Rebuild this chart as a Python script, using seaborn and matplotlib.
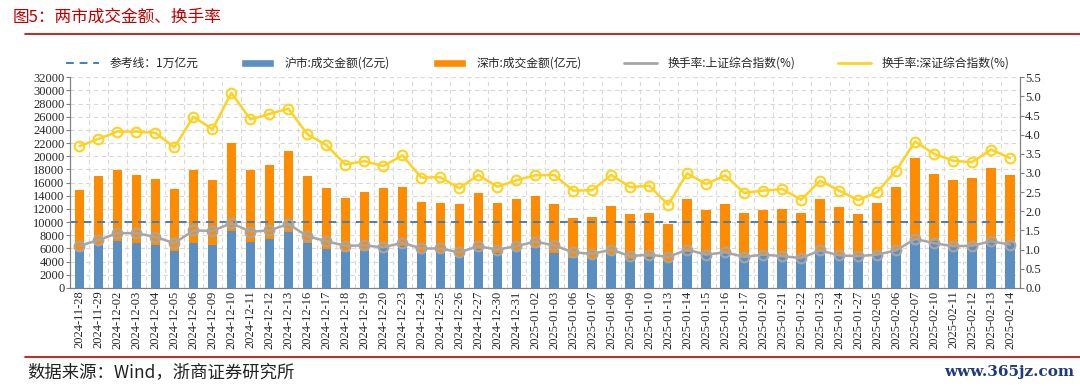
import numpy as np
import pandas as pd
import matplotlib
matplotlib.use("Agg")
import matplotlib.pyplot as plt
from matplotlib.lines import Line2D
from matplotlib.patches import Patch
import seaborn as sns

dates = ["2024-11-28", "2024-11-29", "2024-12-02", "2024-12-03", "2024-12-04", "2024-12-05",
         "2024-12-06", "2024-12-09", "2024-12-10", "2024-12-11", "2024-12-12", "2024-12-13",
         "2024-12-16", "2024-12-17", "2024-12-18", "2024-12-19", "2024-12-20", "2024-12-23",
         "2024-12-24", "2024-12-25", "2024-12-26", "2024-12-27", "2024-12-30", "2024-12-31",
         "2025-01-02", "2025-01-03", "2025-01-06", "2025-01-07", "2025-01-08", "2025-01-09",
         "2025-01-10", "2025-01-13", "2025-01-14", "2025-01-15", "2025-01-16", "2025-01-17",
         "2025-01-20", "2025-01-21", "2025-01-22", "2025-01-23", "2025-01-24", "2025-01-27",
         "2025-02-05", "2025-02-06", "2025-02-07", "2025-02-10", "2025-02-11", "2025-02-12",
         "2025-02-13", "2025-02-14"]

hu_amount = [5600, 6570, 7080, 6830, 6520, 5660, 6880, 6520, 8590, 6980, 7430, 8490, 6770, 5920, 5410,
             5660, 6070, 6320, 5410, 5260, 4900, 5920, 5310, 5710, 6070, 5260, 4500, 4450, 5110, 4400,
             4650, 4150, 5410, 5160, 5410, 4800, 5060, 4900, 4650, 5710, 5060, 4800, 5060, 5710, 7430,
             7080, 6570, 6570, 7330, 6830]
shen_amount = [9260, 10470, 10870, 10310, 10060, 9300, 11070, 9810, 13400, 10870, 11280, 12240, 10220,
               9200, 8190, 8850, 9100, 9000, 7680, 7630, 7890, 8490, 7530, 7740, 7930, 7480, 6070,
               6370, 7380, 6770, 6780, 5560, 8090, 6720, 7380, 6580, 6720, 7130, 6730, 7840, 7230,
               6420, 7880, 9660, 12240, 10260, 9810, 10160, 10870, 10360]
sh_turnover = [1.10, 1.25, 1.43, 1.43, 1.33, 1.17, 1.50, 1.49, 1.69, 1.47, 1.50, 1.67, 1.35, 1.22, 1.10,
               1.11, 1.06, 1.18, 1.03, 1.03, 0.93, 1.09, 1.00, 1.09, 1.21, 1.11, 0.93, 0.89, 1.00, 0.83,
               0.87, 0.81, 1.00, 0.87, 0.93, 0.81, 0.87, 0.83, 0.78, 0.98, 0.85, 0.83, 0.87, 0.98, 1.28,
               1.17, 1.09, 1.10, 1.22, 1.13]
sz_turnover = [3.70, 3.89, 4.08, 4.08, 4.05, 3.67, 4.47, 4.14, 5.09, 4.40, 4.54, 4.68, 4.01, 3.73, 3.22,
               3.31, 3.18, 3.46, 2.88, 2.89, 2.60, 2.95, 2.64, 2.81, 2.94, 2.95, 2.54, 2.55, 2.95, 2.63,
               2.67, 2.17, 2.99, 2.71, 2.94, 2.48, 2.54, 2.58, 2.30, 2.80, 2.54, 2.29, 2.50, 3.06, 3.82,
               3.50, 3.32, 3.28, 3.61, 3.39]
ref_line = 10000

left_ticks = list(range(0, 32001, 2000))
right_ticks = [i * 0.5 for i in range(12)]

legend_labels = ["参考线：1万亿元", "沪市:成交金额(亿元)", "深市:成交金额(亿元)",
                 "换手率:上证综合指数(%)", "换手率:深证综合指数(%)"]

df = pd.DataFrame({"date": dates, "hu": hu_amount, "shen": shen_amount,
                   "sh": sh_turnover, "sz": sz_turnover})
df["total"] = df["hu"] + df["shen"]
df["pos"] = np.arange(len(df))

C_BLUE = "#5B8FC2"
C_ORANGE = "#FF8C00"
C_GRAY = "#A6A6A6"
C_YELLOW = "#FFD21F"
C_RED = "#C00000"
SERIF = ["Liberation Serif", "DejaVu Serif"]
CJK = ["Noto Sans CJK SC", "DejaVu Sans"]

sns.set_theme(style="white")
plt.rcParams["font.family"] = ["Liberation Serif", "Noto Sans CJK SC", "DejaVu Sans"]

fig = plt.figure(figsize=(10.8, 3.86), dpi=100)
ax = fig.add_axes([0.0648, 0.254, 0.8792, 0.546])

sns.barplot(data=df, x="date", y="total", color=C_ORANGE, width=0.5, saturation=1,
            edgecolor="none", ax=ax, zorder=2)
sns.barplot(data=df, x="date", y="hu", color=C_BLUE, width=0.5, saturation=1,
            edgecolor="none", ax=ax, zorder=3)
ax.hlines(ref_line, -0.5, len(df) - 1, colors="#3F7FBF", linestyles=(0, (4, 3)), lw=1.4, zorder=4)

ax.set_xlim(-0.5, len(df) - 0.5)
ax.set_ylim(0, 32000)
ax.set_yticks(left_ticks)
ax.set_yticklabels([str(v) for v in left_ticks], fontsize=9, family=SERIF)
ax.set_xticks(df["pos"])
ax.set_xticklabels(dates, rotation=90, fontsize=9, family=SERIF)
ax.set_xticks(np.arange(len(df) - 1) + 0.5, minor=True)
ax.set_xlabel("")
ax.set_ylabel("")
ax.grid(False)
ax.yaxis.grid(True, color="#D9D9D9", linestyle=(0, (4, 3)), lw=0.8, zorder=0)
ax.xaxis.grid(True, which="minor", color="#D9D9D9", linestyle=(0, (4, 3)), lw=0.8, zorder=0)
ax.set_axisbelow(True)
ax.tick_params(axis="y", which="major", length=3, width=0.8, color="#808080", pad=1, left=True)
ax.tick_params(axis="x", which="both", length=0, pad=2)

ax2 = ax.twinx()
sns.lineplot(data=df, x="pos", y="sh", color=C_GRAY, lw=1.8, marker="o", markersize=7,
             markerfacecolor="none", markeredgecolor=C_GRAY, markeredgewidth=1.5, ax=ax2)
sns.lineplot(data=df, x="pos", y="sz", color=C_YELLOW, lw=1.8, marker="o", markersize=7,
             markerfacecolor="none", markeredgecolor=C_YELLOW, markeredgewidth=1.5, ax=ax2)
ax2.set_ylim(0, 5.5)
ax2.set_yticks(right_ticks)
ax2.set_yticklabels([f"{v:.1f}" for v in right_ticks], fontsize=9, family=SERIF)
ax2.set_ylabel("")
ax2.set_xlabel("")
ax2.grid(False)
ax2.tick_params(axis="y", length=3, width=0.8, color="#808080", pad=1, right=True)
ax2.set_xlim(-0.5, len(df) - 0.5)

for a in (ax, ax2):
    for s in ["left", "right", "bottom"]:
        a.spines[s].set_color("#808080")
        a.spines[s].set_linewidth(0.8)
    a.spines["top"].set_visible(False)

handles = [Line2D([0], [0], color="#3F7FBF", lw=1.4, linestyle=(0, (4, 3))),
           Patch(facecolor=C_BLUE), Patch(facecolor=C_ORANGE),
           Line2D([0], [0], color=C_GRAY, lw=2), Line2D([0], [0], color=C_YELLOW, lw=2)]
fig.legend(handles, legend_labels, loc="center", bbox_to_anchor=(0.498, 0.836), ncol=5,
           frameon=False, prop={"family": CJK, "size": 8.5},
           handlelength=2.8, columnspacing=3.6, handletextpad=0.9)

fig.text(0.012, 0.955, "图5：两市成交金额、换手率", color=C_RED, fontsize=12,
         family=CJK, va="center", ha="left")
fig.add_artist(Line2D([0.023, 1.0], [0.912, 0.912], color=C_RED, lw=1.2))
fig.add_artist(Line2D([0.023, 1.0], [0.075, 0.075], color=C_RED, lw=1.2))
fig.text(0.025, 0.035, "数据来源：Wind，浙商证券研究所", fontsize=12.5,
         family=CJK, va="center", ha="left", color="#222222")
fig.text(0.995, 0.035, "www.365jz.com", fontsize=11, family=["DejaVu Serif"],
         va="center", ha="right", color="#1F3A7A", weight="bold")

fig.savefig("out.png", dpi=100)
